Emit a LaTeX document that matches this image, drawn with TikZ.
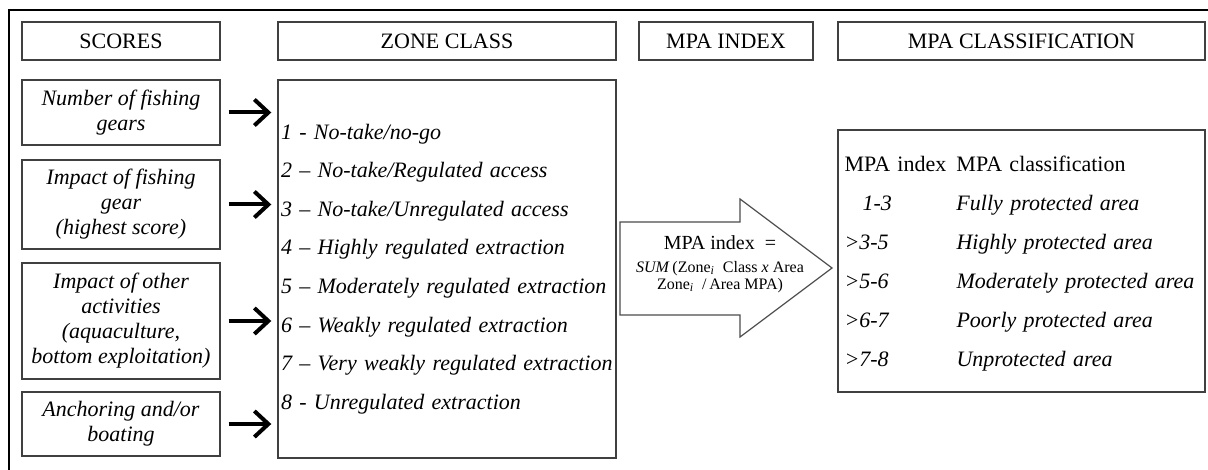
\documentclass[tikz,border=0pt]{standalone}
\usepackage{fontspec}
\setmainfont{Liberation Serif}
\usetikzlibrary{arrows.meta}

\begin{document}
\begin{tikzpicture}[x=0.5pt,y=-0.5pt,>={Straight Barb[length=7pt,width=13pt]},
  box/.style={draw=black!75,line width=0.7pt,inner sep=2pt,align=center,font=\fontsize{11}{13}\selectfont},
  head node/.style={box,minimum height=19pt},
  score node/.style={box,minimum width=99pt,font=\fontsize{11}{12.5}\selectfont\itshape}]
  \useasboundingbox (0,0) rectangle (1208,470);
  \clip (0,0) rectangle (1208,470);
  \draw[line width=1.2pt] (9,490) -- (9,10) -- (1230,10);

  \node[head node,minimum width=99pt] (h1) at (121,41) {SCORES};
  \node[head node,minimum width=169pt] (h2) at (447,41) {ZONE CLASS};
  \node[head node,minimum width=87pt] (h3) at (726,41) {MPA INDEX};
  \node[head node,minimum width=183.5pt] (h4) at (1021.5,41) {MPA CLASSIFICATION};

  \node[score node,minimum height=32.5pt] (s1) at (121,112.5) {Number of fishing\\gears};
  \node[score node,minimum height=44.5pt] (s2) at (121,204.5) {Impact of fishing\\gear\\(highest score)};
  \node[score node,minimum height=58pt] (s3) at (121,321) {Impact of other\\activities\\(aquaculture,\\bottom exploitation)};
  \node[score node,minimum height=32pt] (s4) at (121,424) {Anchoring and/or\\boating};

  \node[box,minimum width=169pt,minimum height=189pt,text width=166pt,inner xsep=1.5pt,align=left,
    font=\fontsize{11}{19.3}\selectfont\itshape] (z) at (447,269)
    {1 - No-take/no-go\\
     2 -- No-take/Regulated access\\
     3 -- No-take/Unregulated access\\
     4 -- Highly regulated extraction\\
     5 -- Moderately regulated extraction\\
     6 -- Weakly regulated extraction\\
     7 -- Very weakly regulated extraction\\
     8 - Unregulated extraction};

  \path[->,line width=2pt,shorten <=4pt,shorten >=3pt]
    (s1) edge (s1 -| z.west)
    (s2) edge (s2 -| z.west)
    (s3) edge (s3 -| z.west)
    (s4) edge (s4 -| z.west);

  \draw[draw=black!70,line width=0.6pt] (620,222) -- (740,222) -- (740,199) -- (832,268)
    -- (740,337) -- (740,315) -- (620,315) -- cycle;
  \node[align=center,inner sep=0pt,font=\fontsize{8}{8.5}\selectfont] (m) at (720,264)
    {{\fontsize{10}{10}\selectfont MPA index\ \ =}\\[3pt]
     \textit{SUM}\,(Zone\textsubscript{\itshape i}\ \ Class \textit{x} Area\\
     Zone\textsubscript{\itshape i}\ \ /\,Area MPA)};

  \node[box,minimum width=183.5pt,minimum height=131pt,text width=177pt,inner xsep=3.25pt,align=left,
    font=\fontsize{11}{19.5}\selectfont] (c) at (1021.5,261)
    {\noindent\begin{tabular}{@{}p{56pt}@{}l@{}}
     MPA index & MPA classification\\
     \hspace*{9pt}\textit{1-3} & \textit{Fully protected area}\\
     \textit{>3-5} & \textit{Highly protected area}\\
     \textit{>5-6} & \textit{Moderately protected area}\\
     \textit{>6-7} & \textit{Poorly protected area}\\
     \textit{>7-8} & \textit{Unprotected area}
     \end{tabular}};
\end{tikzpicture}
\end{document}
